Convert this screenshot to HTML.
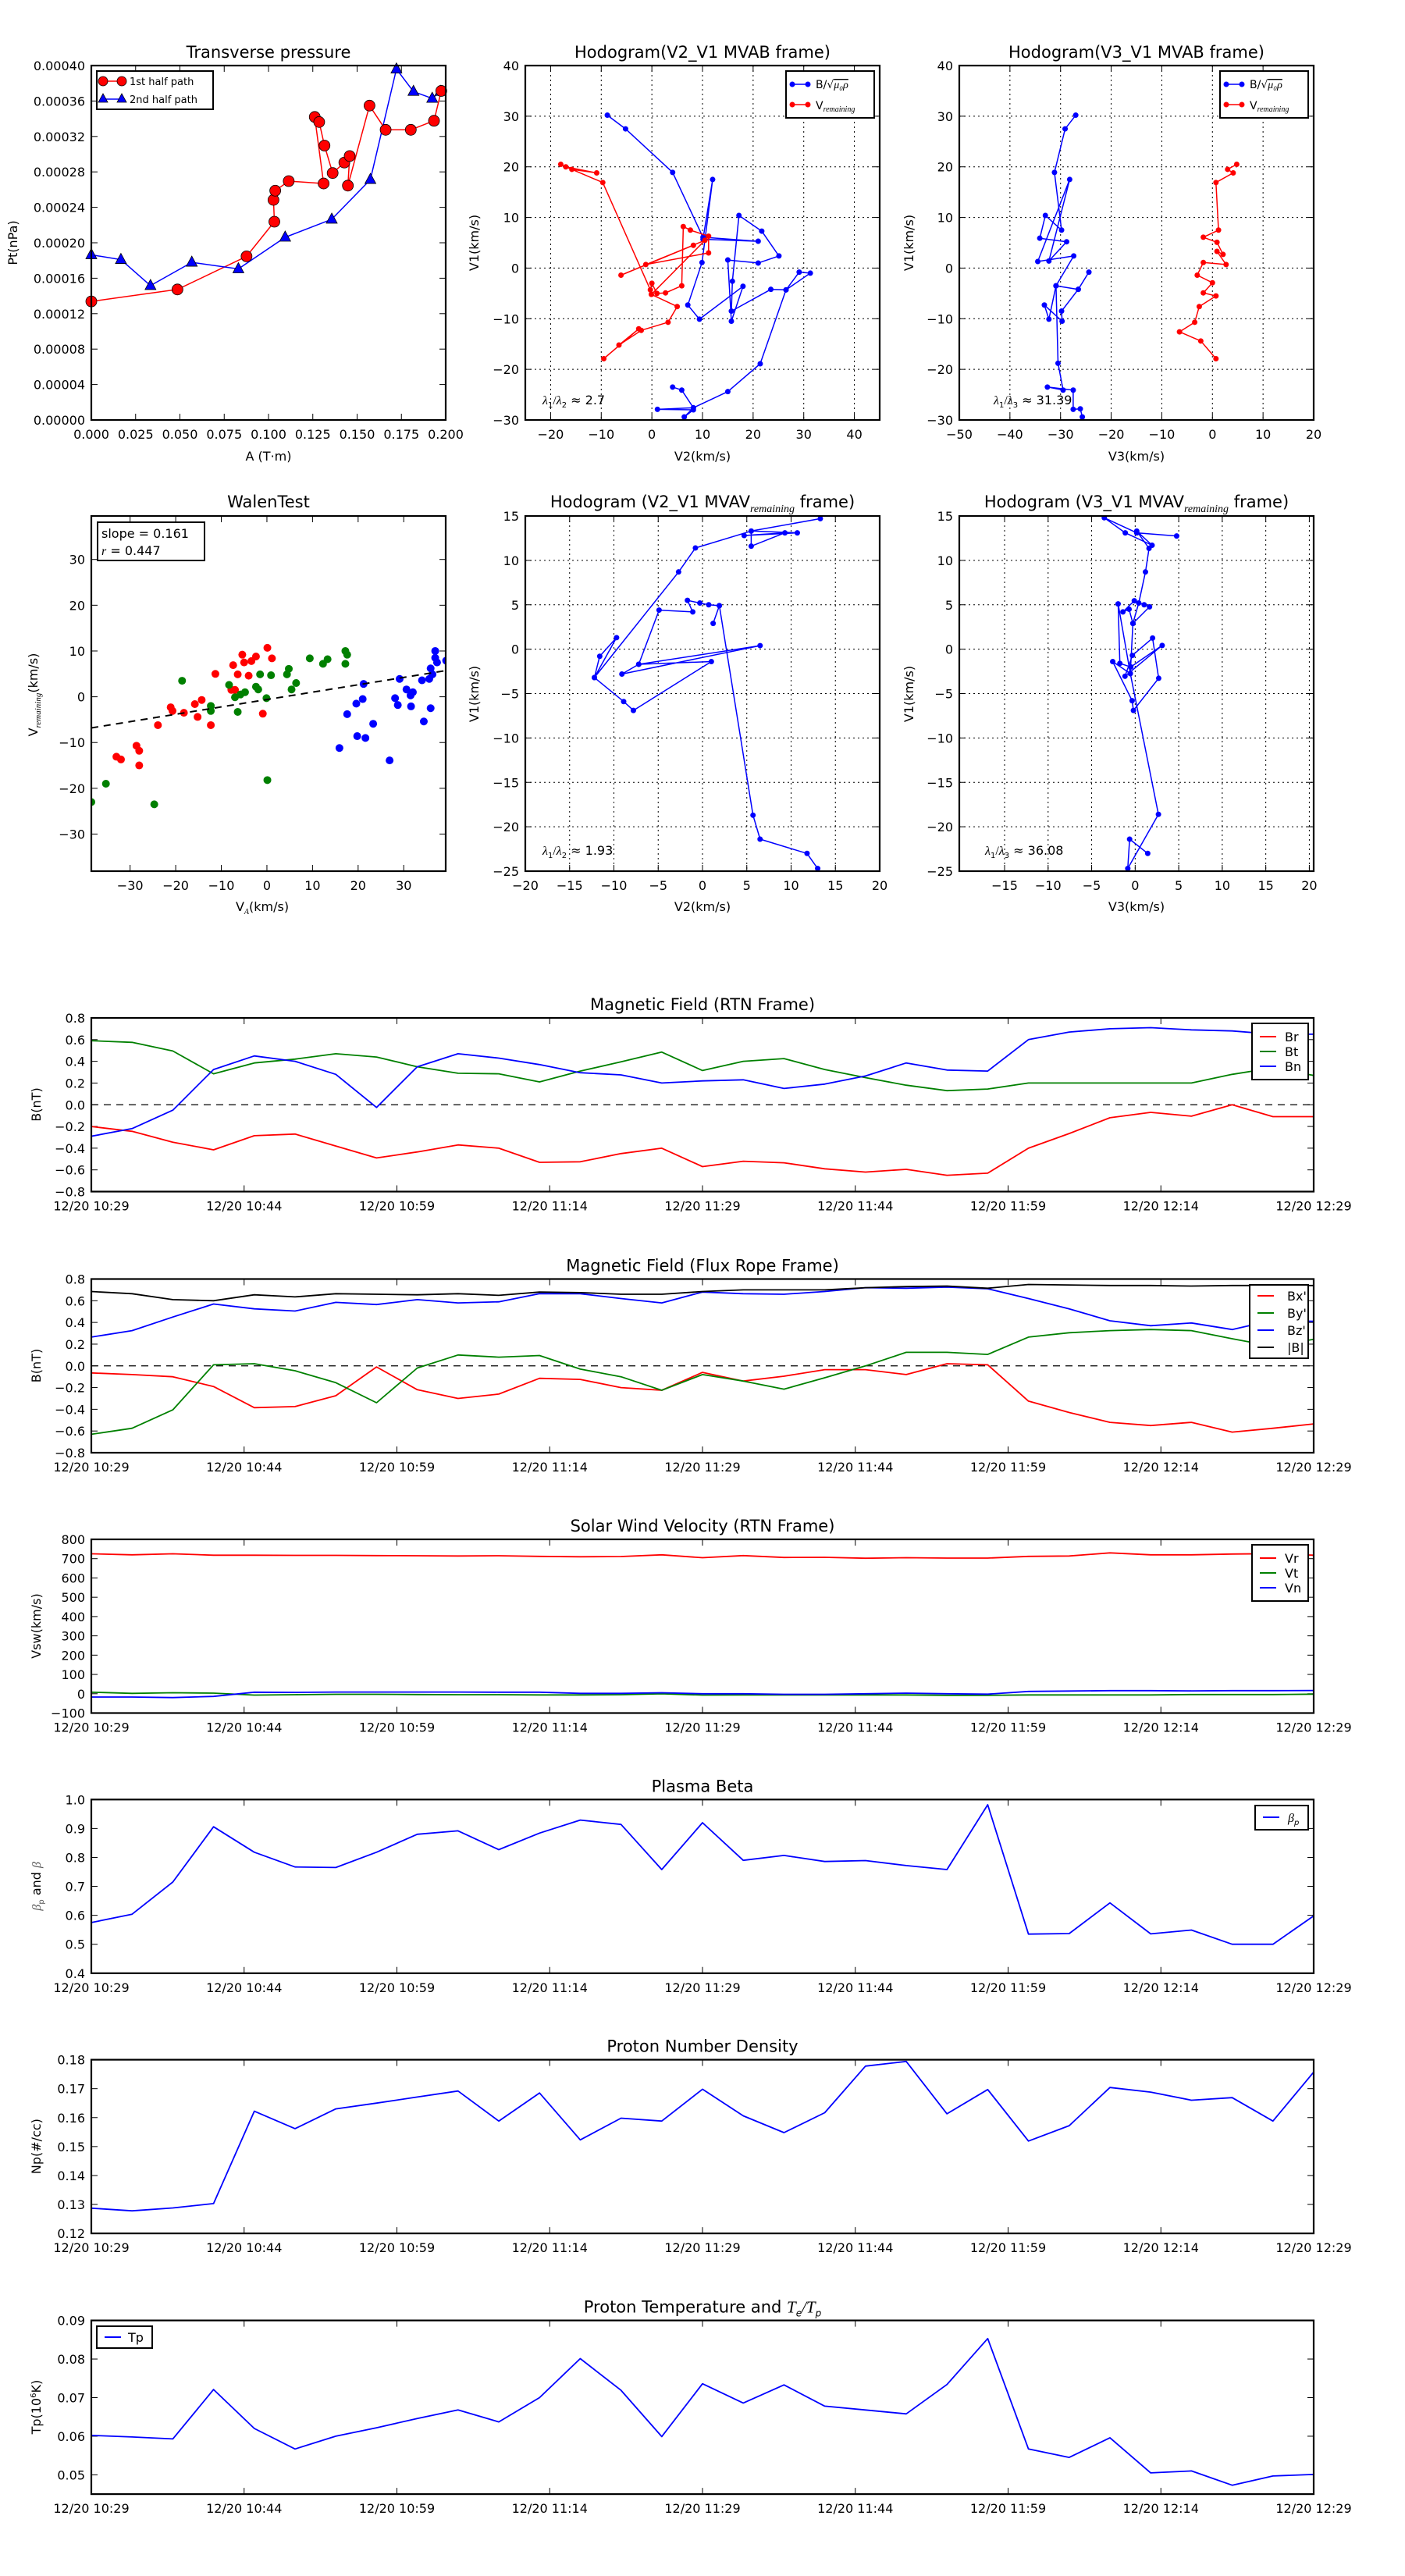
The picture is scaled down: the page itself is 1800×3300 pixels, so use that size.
<!DOCTYPE html>
<html><head><meta charset="utf-8"><title>Flux rope analysis</title>
<style>
html,body{margin:0;padding:0;background:#fff;}
svg{display:block;font-family:"DejaVu Sans","Liberation Sans",sans-serif;}
</style></head>
<body>
<svg id="fig" width="1800" height="3300" viewBox="0 0 1800 3300" xmlns="http://www.w3.org/2000/svg">
<rect x="0" y="0" width="1800" height="3300" fill="#fff"/>
</svg>
<script>
// ---------- DATA ----------
const ptRedA=[0,0.0486,0.0876,0.1033,0.1028,0.1038,0.1114,0.1311,0.1261,0.1286,0.1316,0.1362,0.1428,0.1458,0.1448,0.1570,0.1661,0.1803,0.1934,0.1975];
const ptRedPt=[0.0001338,0.0001473,0.0001847,0.0002238,0.0002484,0.0002588,0.0002696,0.0002669,0.0003420,0.0003363,0.0003097,0.0002787,0.0002905,0.0002979,0.0002645,0.0003548,0.0003275,0.0003275,0.0003377,0.0003714];
const ptBlueA=[0,0.0167,0.0334,0.0567,0.0830,0.1094,0.1357,0.1575,0.1722,0.1818,0.1924,0.1970];
const ptBluePt=[0.0001864,0.000181,0.0001516,0.0001779,0.0001705,0.0002062,0.0002265,0.0002713,0.000396,0.0003707,0.0003629,0.0003707];
const ptYTicks=[0,0.00004,0.00008,0.00012,0.00016,0.0002,0.00024,0.00028,0.00032,0.00036,0.0004];
const ptXTicks=[0,0.025,0.05,0.075,0.1,0.125,0.15,0.175,0.2];

const h1BlueV2=[-8.8,-5.2,4.1,10.1,21.0,10.1,12.0,9.9,7.1,9.4,18.0,15.7,15.0,21.0,25.1,21.7,17.2,15.9,15.7,23.5,26.5,29.1,31.3,26.5,21.4,15.0,8.2,1.1,8.2,6.4,8.2,5.9,4.1];
const h1BlueV1=[30.2,27.5,18.9,6.1,5.3,5.7,17.5,1.1,-7.3,-10.1,-3.6,-10.5,1.6,1.0,2.4,7.3,10.4,-2.6,-8.5,-4.2,-4.3,-0.8,-1.0,-4.3,-18.9,-24.4,-27.6,-27.9,-28.0,-29.4,-27.6,-24.1,-23.5];
const h1RedV2=[-18,-15.8,-10.9,-17,-9.7,-0.3,0,1,2.7,5.9,6.2,7.6,11.2,11.2,-1.2,8.2,-6.1,10.5,-0.1,5.0,3.2,-2.1,-6.5,-2.6,-9.5];
const h1RedV1=[20.5,19.5,18.8,20,16.9,-4.3,-3,-5,-4.9,-3.5,8.2,7.5,6.3,3.0,0.7,4.5,-1.4,5.5,-5.2,-7.6,-10.7,-12.3,-15.2,-12.0,-17.9];
const h2BlueV3=[-27.0,-29.1,-31.2,-29.8,-33,-34.1,-28.8,-32.3,-28.2,-34.5,-27.4,-30.9,-26.5,-24.4,-26.5,-29.8,-29.7,-33.2,-32.3,-30.9,-30.5,-29.5,-32.6,-27.5,-27.5,-26.1,-25.7];
const h2BlueV1=[30.2,27.5,18.9,7.5,10.4,5.9,5.2,1.4,17.5,1.3,2.4,-3.5,-4.2,-0.8,-4.2,-8.5,-10.5,-7.3,-10.1,-3.5,-18.8,-24.1,-23.5,-24.1,-27.9,-27.8,-29.4];
const h2RedV3=[4.8,3.0,4.1,0.7,1.2,-1.8,0.9,2.1,0.9,2.7,-1.8,-3.0,0,-1.8,0.7,-2.6,-3.5,-6.5,-2.3,0.7];
const h2RedV1=[20.5,19.5,18.8,16.9,7.5,6.1,5.1,2.7,3.3,0.7,1.1,-1.4,-2.9,-4.9,-5.5,-7.6,-10.7,-12.6,-14.4,-17.9];

const walenRedX=[-5.4,0.1,1.1,-2.4,-3.4,-5,-7.4,-6.4,-4,-11.3,-7,-7.8,-14.3,-15.8,-21.1,-20.7,-18.2,-15.2,-12.3,-23.9,-0.9,-28.6,-28,-33,-32,-28];
const walenRedY=[9.2,10.7,8.4,8.8,7.8,7.5,6.9,4.9,4.6,5.0,1.5,1.5,-0.7,-1.6,-2.3,-3.1,-3.5,-4.4,-6.2,-6.2,-3.7,-10.7,-11.8,-13.1,-13.7,-15.0];
const walenGreenX=[17.2,17.6,13.3,9.4,12.3,17.2,4.8,4.4,0.9,-1.5,6.4,-8.3,-2.4,-1.9,-4.8,-5.8,-7,-0.1,5.4,-18.6,-12.3,-12.3,-6.4,-35.3,-38.5,-24.7,0.1];
const walenGreenY=[10,9.2,8.2,8.4,7.2,7.2,6.1,4.9,4.7,4.9,3.0,2.6,2.2,1.6,1.0,0.5,-0.1,-0.3,1.6,3.5,-2.0,-3.1,-3.3,-19,-23,-23.5,-18.2];
const walenBlueX=[36.9,36.9,37.3,39.3,35.9,36.3,34.0,35.6,29.1,21.2,30.6,32,31.5,28.1,28.7,31.6,21,19.6,35.9,17.6,23.3,34.4,19.8,21.6,15.9,26.9];
const walenBlueY=[10,8.5,7.5,7.9,6.2,4.9,3.6,3.9,3.9,2.8,1.6,1.0,0.3,-0.3,-1.8,-2.1,-0.5,-1.5,-2.5,-3.8,-5.9,-5.4,-8.6,-9.0,-11.2,-13.9];
const walenSlope=0.161, walenIntercept=-0.6;
const walenTicks=[-30,-20,-10,0,10,20,30];

const h3V2=[13.3,5.5,10.7,4.7,9.3,5.5,5.5,-0.8,-2.7,-12.2,-11.6,-9.7,-12.2,-8.9,-7.8,1.0,-7.2,6.5,-9.1,-7.2,-4.9,-1.1,-1.7,-0.3,0.7,1.9,1.2,1.9,5.7,6.5,11.8,13.0];
const h3V1=[14.7,13.3,13.1,12.8,13.1,11.6,13.3,11.4,8.7,-3.2,-0.8,1.3,-3.2,-5.9,-6.9,-1.4,-1.7,0.4,-2.8,-1.7,4.4,4.2,5.5,5.2,5.0,4.9,2.9,4.9,-18.7,-21.4,-23.0,-24.7];
const h4V3=[4.76,0.18,-3.55,-1.14,1.94,0.18,1.59,1.18,0.41,-0.26,-0.7,-1.41,-0.1,1.03,1.65,-0.26,-0.56,-1.96,-1.76,-0.5,3.1,-1.17,-0.32,2.0,2.7,-0.2,-0.35,-2.58,-0.56,2.67,-0.85,-0.64,1.44];
const h4V1=[12.75,13.1,14.8,13.1,11.7,13.3,11.35,8.7,5.2,2.9,4.5,4.2,5.45,5.0,4.77,2.9,-2.75,5.1,-1.6,-2.0,0.42,-3.05,-0.7,1.25,-3.28,-6.9,-5.8,-1.4,-2.75,-18.6,-24.7,-21.4,-23.0];

const timeTickLabels=["12/20 10:29","12/20 10:44","12/20 10:59","12/20 11:14","12/20 11:29","12/20 11:44","12/20 11:59","12/20 12:14","12/20 12:29"];
const timeTickMinutes=[0,15,30,45,60,75,90,105,120];
const sampleStepMin=4;
const Br=[-0.2,-0.245,-0.345,-0.415,-0.285,-0.27,-0.38,-0.49,-0.435,-0.37,-0.40,-0.53,-0.525,-0.45,-0.40,-0.57,-0.52,-0.535,-0.59,-0.62,-0.595,-0.65,-0.63,-0.40,-0.265,-0.12,-0.07,-0.105,0.0,-0.11,-0.11];
const Bt=[0.59,0.575,0.495,0.285,0.385,0.42,0.47,0.44,0.35,0.29,0.285,0.21,0.31,0.395,0.485,0.315,0.40,0.425,0.325,0.25,0.18,0.13,0.145,0.20,0.20,0.20,0.20,0.20,0.28,0.34,0.27];
const Bn=[-0.29,-0.22,-0.05,0.325,0.45,0.40,0.28,-0.025,0.35,0.47,0.43,0.37,0.295,0.275,0.20,0.22,0.23,0.15,0.19,0.265,0.385,0.32,0.31,0.60,0.67,0.70,0.71,0.69,0.68,0.65,0.65];
const Bxp=[-0.065,-0.08,-0.10,-0.19,-0.385,-0.375,-0.275,-0.01,-0.22,-0.30,-0.26,-0.115,-0.125,-0.20,-0.225,-0.06,-0.14,-0.095,-0.035,-0.035,-0.08,0.02,0.01,-0.325,-0.43,-0.52,-0.55,-0.52,-0.61,-0.575,-0.535];
const Byp=[-0.63,-0.575,-0.405,0.01,0.02,-0.045,-0.155,-0.34,-0.02,0.10,0.08,0.095,-0.03,-0.10,-0.225,-0.08,-0.14,-0.215,-0.11,0.0,0.125,0.125,0.105,0.265,0.305,0.325,0.335,0.325,0.25,0.18,0.245];
const Bzp=[0.265,0.325,0.45,0.57,0.525,0.505,0.585,0.565,0.61,0.58,0.59,0.665,0.665,0.62,0.58,0.68,0.665,0.66,0.685,0.72,0.715,0.725,0.71,0.62,0.525,0.415,0.37,0.395,0.335,0.42,0.41];
const Bmag=[0.685,0.665,0.61,0.60,0.655,0.635,0.665,0.66,0.655,0.665,0.65,0.68,0.675,0.66,0.66,0.685,0.70,0.70,0.70,0.72,0.73,0.735,0.715,0.75,0.745,0.74,0.74,0.735,0.74,0.74,0.74];
const Vr=[725,720,725,718,718,717,717,716,715,714,715,712,710,711,720,705,716,706,707,702,705,703,703,712,714,730,720,720,724,726,718];
const Vt=[8,2,5,3,-7,-5,-3,-3,-4,-5,-5,-6,-6,-5,0,-7,-6,-6,-6,-6,-6,-8,-8,-6,-6,-6,-6,-4,-4,-4,-2];
const Vn=[-17,-17,-20,-14,8,7,9,9,9,9,8,8,2,2,5,0,0,-3,-3,0,3,0,-2,12,14,16,16,15,16,16,17];
const betaP=[0.575,0.604,0.715,0.906,0.818,0.767,0.765,0.818,0.88,0.892,0.827,0.884,0.929,0.914,0.758,0.92,0.79,0.807,0.786,0.789,0.772,0.758,0.982,0.535,0.537,0.643,0.536,0.549,0.50,0.50,0.598];
const Np=[0.1287,0.1278,0.1288,0.1303,0.1622,0.1562,0.163,0.165,0.1671,0.1692,0.1588,0.1685,0.1523,0.1598,0.1588,0.1698,0.1606,0.1548,0.1617,0.1778,0.1794,0.1613,0.1697,0.1519,0.1572,0.1704,0.1688,0.166,0.1669,0.1588,0.1757];
const Tp=[0.0602,0.0598,0.0593,0.0721,0.062,0.0567,0.060,0.0622,0.0646,0.0668,0.0637,0.070,0.0801,0.0719,0.0599,0.0736,0.0686,0.0733,0.0678,0.0668,0.0658,0.0734,0.0853,0.0567,0.0545,0.0596,0.0505,0.051,0.0473,0.0497,0.0501];

// ---------- HELPERS ----------
const NS="http://www.w3.org/2000/svg";
const svg=document.getElementById('fig');
function mk(tag,attrs,parent,name){
  const e=document.createElementNS(NS,tag);
  for(const k in attrs) e.setAttribute(k,attrs[k]);
  
  
  (parent||svg).appendChild(e);
  return e;
}
function txt(s,x,y,parent,name,opts){
  opts=opts||{};
  const t=mk('text',{x:x,y:y,'font-size':opts.size||16,'text-anchor':opts.anchor||'middle',fill:'#000'},parent,name);
  if(opts.rot) t.setAttribute('transform','rotate('+opts.rot+' '+x+' '+y+')');
  t.textContent=s;
  return t;
}
function fmtNum(v,d){const s=Math.abs(v).toFixed(d);return (v<-1e-12?'\u2212':'')+s;}
function scale(d0,d1,p0,p1){return v=>p0+(v-d0)/(d1-d0)*(p1-p0);}
function axes(g,b,xd,yd,xt,yt,xfmt,yfmt,grid,name){
  const sx=scale(xd[0],xd[1],b.x0,b.x1), sy=scale(yd[0],yd[1],b.y1,b.y0);
  if(grid){
    xt.forEach(v=>{const x=sx(v); if(x>b.x0+1&&x<b.x1-1) mk('line',{x1:x,x2:x,y1:b.y0,y2:b.y1,stroke:'#000','stroke-width':1,'stroke-dasharray':'2,4'},g,name+'-x-grid');});
    yt.forEach(v=>{const y=sy(v); if(y>b.y0+1&&y<b.y1-1) mk('line',{x1:b.x0,x2:b.x1,y1:y,y2:y,stroke:'#000','stroke-width':1,'stroke-dasharray':'2,4'},g,name+'-y-grid');});
  }
  xt.forEach(v=>{const x=sx(v);
    mk('line',{x1:x,x2:x,y1:b.y1,y2:b.y1-8,stroke:'#000','stroke-width':1},g,name+'-x-tick');
    mk('line',{x1:x,x2:x,y1:b.y0,y2:b.y0+8,stroke:'#000','stroke-width':1},g,name+'-x-tick');
    txt(xfmt(v),x,b.y1+24,g,name+'-x-tick-label',{size:16});});
  yt.forEach(v=>{const y=sy(v);
    mk('line',{x1:b.x0,x2:b.x0+8,y1:y,y2:y,stroke:'#000','stroke-width':1},g,name+'-y-tick');
    mk('line',{x1:b.x1,x2:b.x1-8,y1:y,y2:y,stroke:'#000','stroke-width':1},g,name+'-y-tick');
    txt(yfmt(v),b.x0-8,y+6,g,name+'-y-tick-label',{size:16,anchor:'end'});});
  return {sx,sy};
}
function frame(g,b,name){mk('rect',{x:b.x0,y:b.y0,width:b.x1-b.x0,height:b.y1-b.y0,fill:'none',stroke:'#000','stroke-width':2.2},g,name+'-frame');}
function poly(g,xs,ys,sx,sy,color,w,name,dash){
  const pts=xs.map((v,i)=>sx(v).toFixed(1)+','+sy(ys[i]).toFixed(1)).join(' ');
  const p=mk('polyline',{points:pts,fill:'none',stroke:color,'stroke-width':w,'stroke-linejoin':'round'},g,name);
  if(dash) p.setAttribute('stroke-dasharray',dash);
  return p;
}
function dots(g,xs,ys,sx,sy,color,r,name){
  xs.forEach((v,i)=>{mk('circle',{cx:sx(v),cy:sy(ys[i]),r:r,fill:color},g,name);});
}
function clipFor(b,id){
  const cp=mk('clipPath',{id:id},svg,id);
  mk('rect',{x:b.x0,y:b.y0,width:b.x1-b.x0,height:b.y1-b.y0},cp,id+'-rect');
  return 'url(#'+id+')';
}

// ---------- TRANSVERSE PRESSURE ----------
(function(){
  const g=mk('g',{},svg,'transverse-pressure-chart');
  const b={x0:117,x1:571,y0:84,y1:538};
  const a=axes(g,b,[0,0.2],[0,0.0004],ptXTicks,ptYTicks,v=>v.toFixed(3),v=>v.toFixed(5),false,'pt');
  const gc=mk('g',{'clip-path':clipFor({x0:b.x0-12,x1:b.x1+12,y0:b.y0-12,y1:b.y1+12},'clip-pt')},g,'pt-series');
  poly(gc,ptRedA,ptRedPt,a.sx,a.sy,'#f00',1.5,'first-half-path-line');
  poly(gc,ptBlueA,ptBluePt,a.sx,a.sy,'#00f',1.5,'second-half-path-line');
  ptBlueA.forEach((v,i)=>{const x=a.sx(v),y=a.sy(ptBluePt[i]);
    mk('polygon',{points:(x)+','+(y-8)+' '+(x-7)+','+(y+5)+' '+(x+7)+','+(y+5),fill:'#00f',stroke:'#000','stroke-width':0.8},gc,'second-half-marker');});
  ptRedA.forEach((v,i)=>{mk('circle',{cx:a.sx(v),cy:a.sy(ptRedPt[i]),r:7,fill:'#f00',stroke:'#000','stroke-width':0.8},gc,'first-half-marker');});
  frame(g,b,'pt');
  txt('Transverse pressure',344,74,g,'pt-title',{size:21});
  txt('A (T\u00b7m)',344,590,g,'pt-x-axis-title',{size:16});
  txt('Pt(nPa)',22,311,g,'pt-y-axis-title',{size:16,rot:-90});
  const lg=mk('g',{},g,'pt-legend');
  mk('rect',{x:124,y:91,width:149,height:49,fill:'#fff',stroke:'#000','stroke-width':2},lg,'pt-legend-box');
  mk('line',{x1:132,x2:156,y1:104,y2:104,stroke:'#f00','stroke-width':1.5},lg,'pt-legend-red-line');
  mk('circle',{cx:132,cy:104,r:6,fill:'#f00',stroke:'#000','stroke-width':0.8},lg,'pt-legend-red-marker');
  mk('circle',{cx:156,cy:104,r:6,fill:'#f00',stroke:'#000','stroke-width':0.8},lg,'pt-legend-red-marker');
  txt('1st half path',166,109,lg,'pt-legend-label-1',{size:13,anchor:'start'});
  mk('line',{x1:132,x2:156,y1:127,y2:127,stroke:'#00f','stroke-width':1.5},lg,'pt-legend-blue-line');
  [132,156].forEach(x=>{mk('polygon',{points:x+','+120+' '+(x-6)+','+131+' '+(x+6)+','+131,fill:'#00f',stroke:'#000','stroke-width':0.8},lg,'pt-legend-blue-marker');});
  txt('2nd half path',166,132,lg,'pt-legend-label-2',{size:13,anchor:'start'});
})();

// ---------- HODOGRAM LEGEND ----------
function hodoLegend(g,x,y,name){
  const lg=mk('g',{},g,name);
  mk('rect',{x:x,y:y,width:113,height:60,fill:'#fff',stroke:'#000','stroke-width':2},lg,name+'-box');
  mk('line',{x1:x+8,x2:x+28,y1:y+17,y2:y+17,stroke:'#00f','stroke-width':1.5},lg,name+'-blue-line');
  mk('circle',{cx:x+8,cy:y+17,r:3.5,fill:'#00f'},lg,name+'-blue-marker');
  mk('circle',{cx:x+28,cy:y+17,r:3.5,fill:'#00f'},lg,name+'-blue-marker');
  const t1=txt('B/\u221a',x+38,y+22,lg,name+'-label-b',{size:14,anchor:'start'});
  const ts=document.createElementNS(NS,'tspan'); ts.setAttribute('font-style','italic'); ts.setAttribute('font-family','Liberation Serif, serif'); ts.setAttribute('text-decoration','overline'); ts.textContent='\u03bc\u2080\u03c1';
  
  
  t1.appendChild(ts);
  mk('line',{x1:x+8,x2:x+28,y1:y+43,y2:y+43,stroke:'#f00','stroke-width':1.5},lg,name+'-red-line');
  mk('circle',{cx:x+8,cy:y+43,r:3.5,fill:'#f00'},lg,name+'-red-marker');
  mk('circle',{cx:x+28,cy:y+43,r:3.5,fill:'#f00'},lg,name+'-red-marker');
  const t2=txt('V',x+38,y+49,lg,name+'-label-v',{size:14,anchor:'start'});
  const s2=document.createElementNS(NS,'tspan'); s2.setAttribute('font-size','10'); s2.setAttribute('font-style','italic'); s2.setAttribute('font-family','Liberation Serif, serif'); s2.setAttribute('dy','3'); s2.textContent='remaining';
  
  
  t2.appendChild(s2);
}
function lambdaText(g,x,y,k,val,name){
  const t=txt('',x,y,g,name,{size:16,anchor:'start'});
  t.innerHTML='<tspan font-family="Liberation Serif, serif" font-style="italic">\u03bb</tspan><tspan font-size="10" dy="4">1</tspan><tspan dy="-4" font-family="Liberation Serif, serif">/</tspan><tspan font-family="Liberation Serif, serif" font-style="italic">\u03bb</tspan><tspan font-size="10" dy="4">'+k+'</tspan><tspan dy="-4"> \u2248 '+val+'</tspan>';
}
const ticks10=(a,b)=>{const r=[];for(let v=a;v<=b;v+=10)r.push(v);return r;};
const ticks5=(a,b)=>{const r=[];for(let v=a;v<=b;v+=5)r.push(v);return r;};
const intFmt=v=>fmtNum(v,0);

// ---------- HODOGRAM 1 ----------
(function(){
  const g=mk('g',{},svg,'hodogram-v2-v1-mvab');
  const b={x0:673,x1:1127,y0:84,y1:538};
  const a=axes(g,b,[-25,45],[-30,40],ticks10(-20,40),ticks10(-30,40),intFmt,intFmt,true,'h1');
  const gc=mk('g',{'clip-path':clipFor(b,'clip-h1')},g,'h1-series');
  poly(gc,h1BlueV2,h1BlueV1,a.sx,a.sy,'#00f',1.5,'h1-b-line');
  dots(gc,h1BlueV2,h1BlueV1,a.sx,a.sy,'#00f',3.5,'h1-b-point');
  poly(gc,h1RedV2,h1RedV1,a.sx,a.sy,'#f00',1.5,'h1-v-line');
  dots(gc,h1RedV2,h1RedV1,a.sx,a.sy,'#f00',3.5,'h1-v-point');
  frame(g,b,'h1');
  hodoLegend(g,1007,91,'h1-legend');
  lambdaText(g,695,518,'2','2.7','h1-eigen-ratio');
  txt('Hodogram(V2_V1 MVAB frame)',900,74,g,'h1-title',{size:21});
  txt('V2(km/s)',900,590,g,'h1-x-axis-title',{size:16});
  txt('V1(km/s)',613,311,g,'h1-y-axis-title',{size:16,rot:-90});
})();

// ---------- HODOGRAM 2 ----------
(function(){
  const g=mk('g',{},svg,'hodogram-v3-v1-mvab');
  const b={x0:1229,x1:1683,y0:84,y1:538};
  const a=axes(g,b,[-50,20],[-30,40],ticks10(-50,20),ticks10(-30,40),intFmt,intFmt,true,'h2');
  const gc=mk('g',{'clip-path':clipFor(b,'clip-h2')},g,'h2-series');
  poly(gc,h2BlueV3,h2BlueV1,a.sx,a.sy,'#00f',1.5,'h2-b-line');
  dots(gc,h2BlueV3,h2BlueV1,a.sx,a.sy,'#00f',3.5,'h2-b-point');
  poly(gc,h2RedV3,h2RedV1,a.sx,a.sy,'#f00',1.5,'h2-v-line');
  dots(gc,h2RedV3,h2RedV1,a.sx,a.sy,'#f00',3.5,'h2-v-point');
  frame(g,b,'h2');
  hodoLegend(g,1563,91,'h2-legend');
  lambdaText(g,1273,518,'3','31.39','h2-eigen-ratio');
  txt('Hodogram(V3_V1 MVAB frame)',1456,74,g,'h2-title',{size:21});
  txt('V3(km/s)',1456,590,g,'h2-x-axis-title',{size:16});
  txt('V1(km/s)',1170,311,g,'h2-y-axis-title',{size:16,rot:-90});
})();

// ---------- WALEN TEST ----------
(function(){
  const g=mk('g',{},svg,'walen-test-chart');
  const b={x0:117,x1:571,y0:661,y1:1116};
  const xd=[-38.5,39.2], yd=[-38.1,39.5];
  const a=axes(g,b,xd,yd,walenTicks,walenTicks,intFmt,intFmt,false,'walen');
  const gc=mk('g',{'clip-path':clipFor(b,'clip-walen')},g,'walen-series');
  dots(gc,walenRedX,walenRedY,a.sx,a.sy,'#f00',5,'walen-red-point');
  dots(gc,walenGreenX,walenGreenY,a.sx,a.sy,'#008000',5,'walen-green-point');
  dots(gc,walenBlueX,walenBlueY,a.sx,a.sy,'#00f',5,'walen-blue-point');
  poly(gc,xd,xd.map(v=>walenSlope*v+walenIntercept),a.sx,a.sy,'#000',2,'walen-fit-line','9,7');
  frame(g,b,'walen');
  mk('rect',{x:125,y:669,width:137,height:49,fill:'#fff',stroke:'#000','stroke-width':2},g,'walen-stats-box');
  txt('slope = 0.161',130,689,g,'walen-slope-text',{size:16,anchor:'start'});
  const r=txt('',130,711,g,'walen-r-text',{size:16,anchor:'start'});
  r.innerHTML='<tspan font-family="Liberation Serif, serif" font-style="italic">r</tspan> = 0.447';
  txt('WalenTest',344,650,g,'walen-title',{size:21});
  const xl=txt('V',336,1167,g,'walen-x-axis-title',{size:16});
  xl.innerHTML='V<tspan font-size="10" dy="4" font-style="italic" font-family="Liberation Serif, serif">A</tspan><tspan dy="-4">(km/s)</tspan>';
  const yl=txt('',48,890,g,'walen-y-axis-title',{size:16,rot:-90});
  yl.innerHTML='V<tspan font-size="11" dy="4" font-style="italic" font-family="Liberation Serif, serif">remaining</tspan><tspan dy="-4">(km/s)</tspan>';
})();

// ---------- HODOGRAM 3 / 4 ----------
function mvavTitle(g,x,comp,name){
  const t=txt('',x,650,g,name,{size:21});
  t.innerHTML='Hodogram ('+comp+'_V1 MVAV<tspan font-size="14" dy="6" font-style="italic" font-family="Liberation Serif, serif">remaining</tspan><tspan dy="-6"> frame)</tspan>';
}
(function(){
  const g=mk('g',{},svg,'hodogram-v2-v1-mvav');
  const b={x0:673,x1:1127,y0:661,y1:1116};
  const a=axes(g,b,[-20,20],[-25,15],ticks5(-20,20),ticks5(-25,15),intFmt,intFmt,true,'h3');
  const gc=mk('g',{'clip-path':clipFor(b,'clip-h3')},g,'h3-series');
  poly(gc,h3V2,h3V1,a.sx,a.sy,'#00f',1.5,'h3-line');
  dots(gc,h3V2,h3V1,a.sx,a.sy,'#00f',3.5,'h3-point');
  frame(g,b,'h3');
  lambdaText(g,695,1095,'2','1.93','h3-eigen-ratio');
  mvavTitle(g,900,'V2','h3-title');
  txt('V2(km/s)',900,1167,g,'h3-x-axis-title',{size:16});
  txt('V1(km/s)',613,889,g,'h3-y-axis-title',{size:16,rot:-90});
})();
(function(){
  const g=mk('g',{},svg,'hodogram-v3-v1-mvav');
  const b={x0:1229,x1:1683,y0:661,y1:1116};
  const a=axes(g,b,[-20.2,20.5],[-25,15],ticks5(-15,20),ticks5(-25,15),intFmt,intFmt,true,'h4');
  const gc=mk('g',{'clip-path':clipFor(b,'clip-h4')},g,'h4-series');
  poly(gc,h4V3,h4V1,a.sx,a.sy,'#00f',1.5,'h4-line');
  dots(gc,h4V3,h4V1,a.sx,a.sy,'#00f',3.5,'h4-point');
  frame(g,b,'h4');
  lambdaText(g,1262,1095,'3','36.08','h4-eigen-ratio');
  mvavTitle(g,1456,'V3','h4-title');
  txt('V3(km/s)',1456,1167,g,'h4-x-axis-title',{size:16});
  txt('V1(km/s)',1170,889,g,'h4-y-axis-title',{size:16,rot:-90});
})();

// ---------- TIME SERIES ----------
function timeSeries(cfg){
  const g=mk('g',{},svg,cfg.name);
  const b={x0:117,x1:1683,y0:cfg.top,y1:cfg.top+222.5};
  const n=cfg.series[0].vals.length;
  const tmin=timeTickMinutes.map(v=>v);
  const a=axes(g,b,[0,120],cfg.yd,tmin,cfg.yt,v=>timeTickLabels[timeTickMinutes.indexOf(v)],cfg.yfmt,false,cfg.name);
  const gc=mk('g',{'clip-path':clipFor(b,'clip-'+cfg.name)},g,cfg.name+'-series');
  if(cfg.zero) mk('line',{x1:b.x0,x2:b.x1,y1:a.sy(0),y2:a.sy(0),stroke:'#000','stroke-width':1.2,'stroke-dasharray':'9,7'},gc,cfg.name+'-zero-line');
  cfg.series.forEach(s=>{
    const xs=s.vals.map((v,i)=>i*sampleStepMin);
    poly(gc,xs,s.vals,a.sx,a.sy,s.color,1.8,cfg.name+'-'+s.key+'-line');
  });
  frame(g,b,cfg.name);
  if(cfg.legend){
    const L=cfg.legend, lg=mk('g',{},g,cfg.name+'-legend');
    mk('rect',{x:L.x,y:L.y,width:L.w,height:L.h,fill:'#fff',stroke:'#000','stroke-width':2},lg,cfg.name+'-legend-box');
    cfg.series.forEach((s,i)=>{const yy=L.y+L.first+i*L.step;
      mk('line',{x1:L.x+10,x2:L.x+31,y1:yy,y2:yy,stroke:s.color,'stroke-width':2},lg,cfg.name+'-legend-'+s.key+'-swatch');
      const t=txt('',L.x+L.tx,yy+6,lg,cfg.name+'-legend-'+s.key+'-label',{size:16,anchor:'start'});
      t.innerHTML=s.label;});
  }
  const tt=txt('',900,cfg.top-10,g,cfg.name+'-title',{size:21});
  tt.innerHTML=cfg.title;
  const yl=txt('',52,cfg.top+111,g,cfg.name+'-y-axis-title',{size:16,rot:-90});
  yl.innerHTML=cfg.ylabel;
}
const f1=v=>fmtNum(v,1), f2=v=>fmtNum(v,2);
timeSeries({name:'b-rtn-chart',top:1304,yd:[-0.8,0.8],yt:[-0.8,-0.6,-0.4,-0.2,0,0.2,0.4,0.6,0.8],yfmt:f1,zero:true,
  series:[{key:'br',vals:Br,color:'#f00',label:'Br'},{key:'bt',vals:Bt,color:'#008000',label:'Bt'},{key:'bn',vals:Bn,color:'#00f',label:'Bn'}],
  legend:{x:1604,y:1311,w:72,h:72,first:17,step:19,tx:42},title:'Magnetic Field (RTN Frame)',ylabel:'B(nT)'});
timeSeries({name:'b-fluxrope-chart',top:1638.5,yd:[-0.8,0.8],yt:[-0.8,-0.6,-0.4,-0.2,0,0.2,0.4,0.6,0.8],yfmt:f1,zero:true,
  series:[{key:'bx',vals:Bxp,color:'#f00',label:"Bx'"},{key:'by',vals:Byp,color:'#008000',label:"By'"},{key:'bz',vals:Bzp,color:'#00f',label:"Bz'"},{key:'bmag',vals:Bmag,color:'#000',label:'|B|'}],
  legend:{x:1601,y:1646,w:75,h:94,first:14,step:22,tx:48},title:'Magnetic Field (Flux Rope Frame)',ylabel:'B(nT)'});
timeSeries({name:'velocity-chart',top:1972,yd:[-100,800],yt:[-100,0,100,200,300,400,500,600,700,800],yfmt:intFmt,zero:false,
  series:[{key:'vr',vals:Vr,color:'#f00',label:'Vr'},{key:'vt',vals:Vt,color:'#008000',label:'Vt'},{key:'vn',vals:Vn,color:'#00f',label:'Vn'}],
  legend:{x:1604,y:1979,w:72,h:72,first:17,step:19,tx:42},title:'Solar Wind Velocity (RTN Frame)',ylabel:'Vsw(km/s)'});
timeSeries({name:'plasma-beta-chart',top:2305.3,yd:[0.4,1.0],yt:[0.4,0.5,0.6,0.7,0.8,0.9,1.0],yfmt:f1,zero:false,
  series:[{key:'betap',vals:betaP,color:'#00f',label:'<tspan font-family="Liberation Serif, serif" font-style="italic">\u03b2</tspan><tspan font-size="10" dy="4" font-style="italic">p</tspan>'}],
  legend:{x:1608,y:2313,w:68,h:31,first:15,step:20,tx:42},title:'Plasma Beta',
  ylabel:'<tspan font-family="Liberation Serif, serif" font-style="italic" fill="#555">\u03b2</tspan><tspan font-size="10" dy="4" fill="#555">p</tspan><tspan dy="-4"> and </tspan><tspan font-family="Liberation Serif, serif" font-style="italic" fill="#555">\u03b2</tspan>'});
timeSeries({name:'proton-density-chart',top:2638.6,yd:[0.12,0.18],yt:[0.12,0.13,0.14,0.15,0.16,0.17,0.18],yfmt:f2,zero:false,
  series:[{key:'np',vals:Np,color:'#00f',label:'Np'}],legend:null,title:'Proton Number Density',ylabel:'Np(#/cc)'});
timeSeries({name:'proton-temperature-chart',top:2972.6,yd:[0.045,0.09],yt:[0.05,0.06,0.07,0.08,0.09],yfmt:f2,zero:false,
  series:[{key:'tp',vals:Tp,color:'#00f',label:'Tp'}],legend:{x:124,y:2980,w:71,h:28,first:14,step:20,tx:40},
  title:'Proton Temperature and <tspan font-family="Liberation Serif, serif" font-style="italic">T</tspan><tspan font-size="12" dy="5" font-style="italic">e</tspan><tspan dy="-5" font-family="Liberation Serif, serif" font-style="italic">/T</tspan><tspan font-size="12" dy="5" font-style="italic">p</tspan>',
  ylabel:'Tp(10<tspan font-size="10" dy="-6">6</tspan><tspan dy="6">K)</tspan>'});
</script>
</body></html>
